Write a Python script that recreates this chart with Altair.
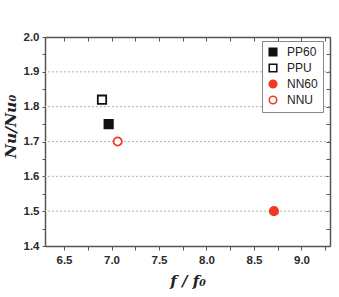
import altair as alt
import pandas as pd

series = ["PP60", "PPU", "NN60", "NNU"]
f_ratio = [6.97, 6.90, 8.71, 7.065]
nu_ratio = [1.75, 1.82, 1.50, 1.70]
shapes = ["square", "square", "circle", "circle"]
strokes = ["#111111", "#111111", "#f03a22", "#f03a22"]
fills = ["#111111", "#ffffff", "#f03a22", "#ffffff"]

x_ticks = [6.5, 6.75, 7.0, 7.25, 7.5, 7.75, 8.0, 8.25, 8.5, 8.75, 9.0, 9.25]
y_ticks = [1.4, 1.45, 1.5, 1.55, 1.6, 1.65, 1.7, 1.75, 1.8, 1.85, 1.9, 1.95, 2.0]
grid_vals = [1.5, 1.6, 1.7, 1.8, 1.9]

df = pd.DataFrame({"series": series, "f": f_ratio, "nu": nu_ratio})
grid_df = pd.DataFrame({"g": grid_vals})

xscale = alt.Scale(domain=[6.3, 9.3], nice=False, zero=False)
yscale = alt.Scale(domain=[1.4, 2.0], nice=False, zero=False)

lab_x = "abs(datum.value*2 - round(datum.value*2)) < 0.001 ? format(datum.value, '.1f') : ''"
lab_y = "abs(datum.value*10 - round(datum.value*10)) < 0.001 ? format(datum.value, '.1f') : ''"

axis_common = dict(
    domainColor="#555555", domainWidth=1.5, tickColor="#555555", tickWidth=1,
    labelFont="Liberation Sans", labelFontWeight="bold", labelFontSize=11.5,
    labelColor="#2a2a2a", grid=False,
    titleFont="DejaVu Serif", titleFontStyle="italic", titleFontWeight="bold",
    titleColor="#222222",
)

grid = alt.Chart(grid_df).mark_rule(color="#b0b0b0", strokeDash=[2, 2], strokeWidth=1).encode(
    y=alt.Y("g:Q", scale=yscale, axis=None)
)

legend = alt.Legend(
    title=None, orient="none", legendX=217, legendY=4, strokeColor="#888888",
    fillColor="white", padding=5, labelFont="Liberation Sans", labelFontSize=12,
    labelColor="#222222", symbolSize=56, rowPadding=2, labelOffset=8,
    symbolStrokeWidth=1.6,
)

pts = alt.Chart(df).mark_point(filled=False, size=70, strokeWidth=1.8, opacity=1).encode(
    x=alt.X("f:Q", scale=xscale, axis=alt.Axis(
        orient="bottom", values=x_ticks, labelExpr=lab_x, title="f / f₀",
        tickSize=4, labelPadding=4, titleY=34, titleBaseline="middle",
        titleFontSize=15, **axis_common)),
    y=alt.Y("nu:Q", scale=yscale, axis=alt.Axis(
        orient="left", values=y_ticks, labelExpr=lab_y, title="Nu/Nu₀",
        tickSize=3, labelPadding=3, titleX=-35, titleY=89, titleAngle=-90,
        titleBaseline="middle", titleAlign="center", titleFontSize=15.5,
        **axis_common)),
    shape=alt.Shape("series:N", scale=alt.Scale(domain=series, range=shapes), legend=legend),
    color=alt.Color("series:N", scale=alt.Scale(domain=series, range=strokes), legend=legend),
    fill=alt.Fill("series:N", scale=alt.Scale(domain=series, range=fills), legend=legend),
)

frame = alt.Chart(df).mark_point(opacity=0).encode(
    x=alt.X("f:Q", scale=xscale, axis=alt.Axis(
        orient="top", values=x_ticks, labels=False, title=None,
        domainColor="#555555", domainWidth=1.5, tickColor="#555555",
        tickSize=alt.ExprRef("-4"), grid=False)),
    y=alt.Y("nu:Q", scale=yscale, axis=alt.Axis(
        orient="right", values=y_ticks, labels=False, title=None,
        domainColor="#555555", domainWidth=1.5, tickColor="#555555",
        tickSize=alt.ExprRef("-4"), grid=False)),
)

chart = alt.layer(grid, pts, frame).resolve_axis(
    x="independent", y="independent"
).properties(
    width=285, height=209,
    autosize=alt.AutoSizeParams(type="none"),
    padding={"left": 45, "top": 37, "right": 9, "bottom": 51},
    background="white",
).configure_view(stroke=None)

chart.save("out.html", embed_options={"renderer": "svg", "actions": False})
